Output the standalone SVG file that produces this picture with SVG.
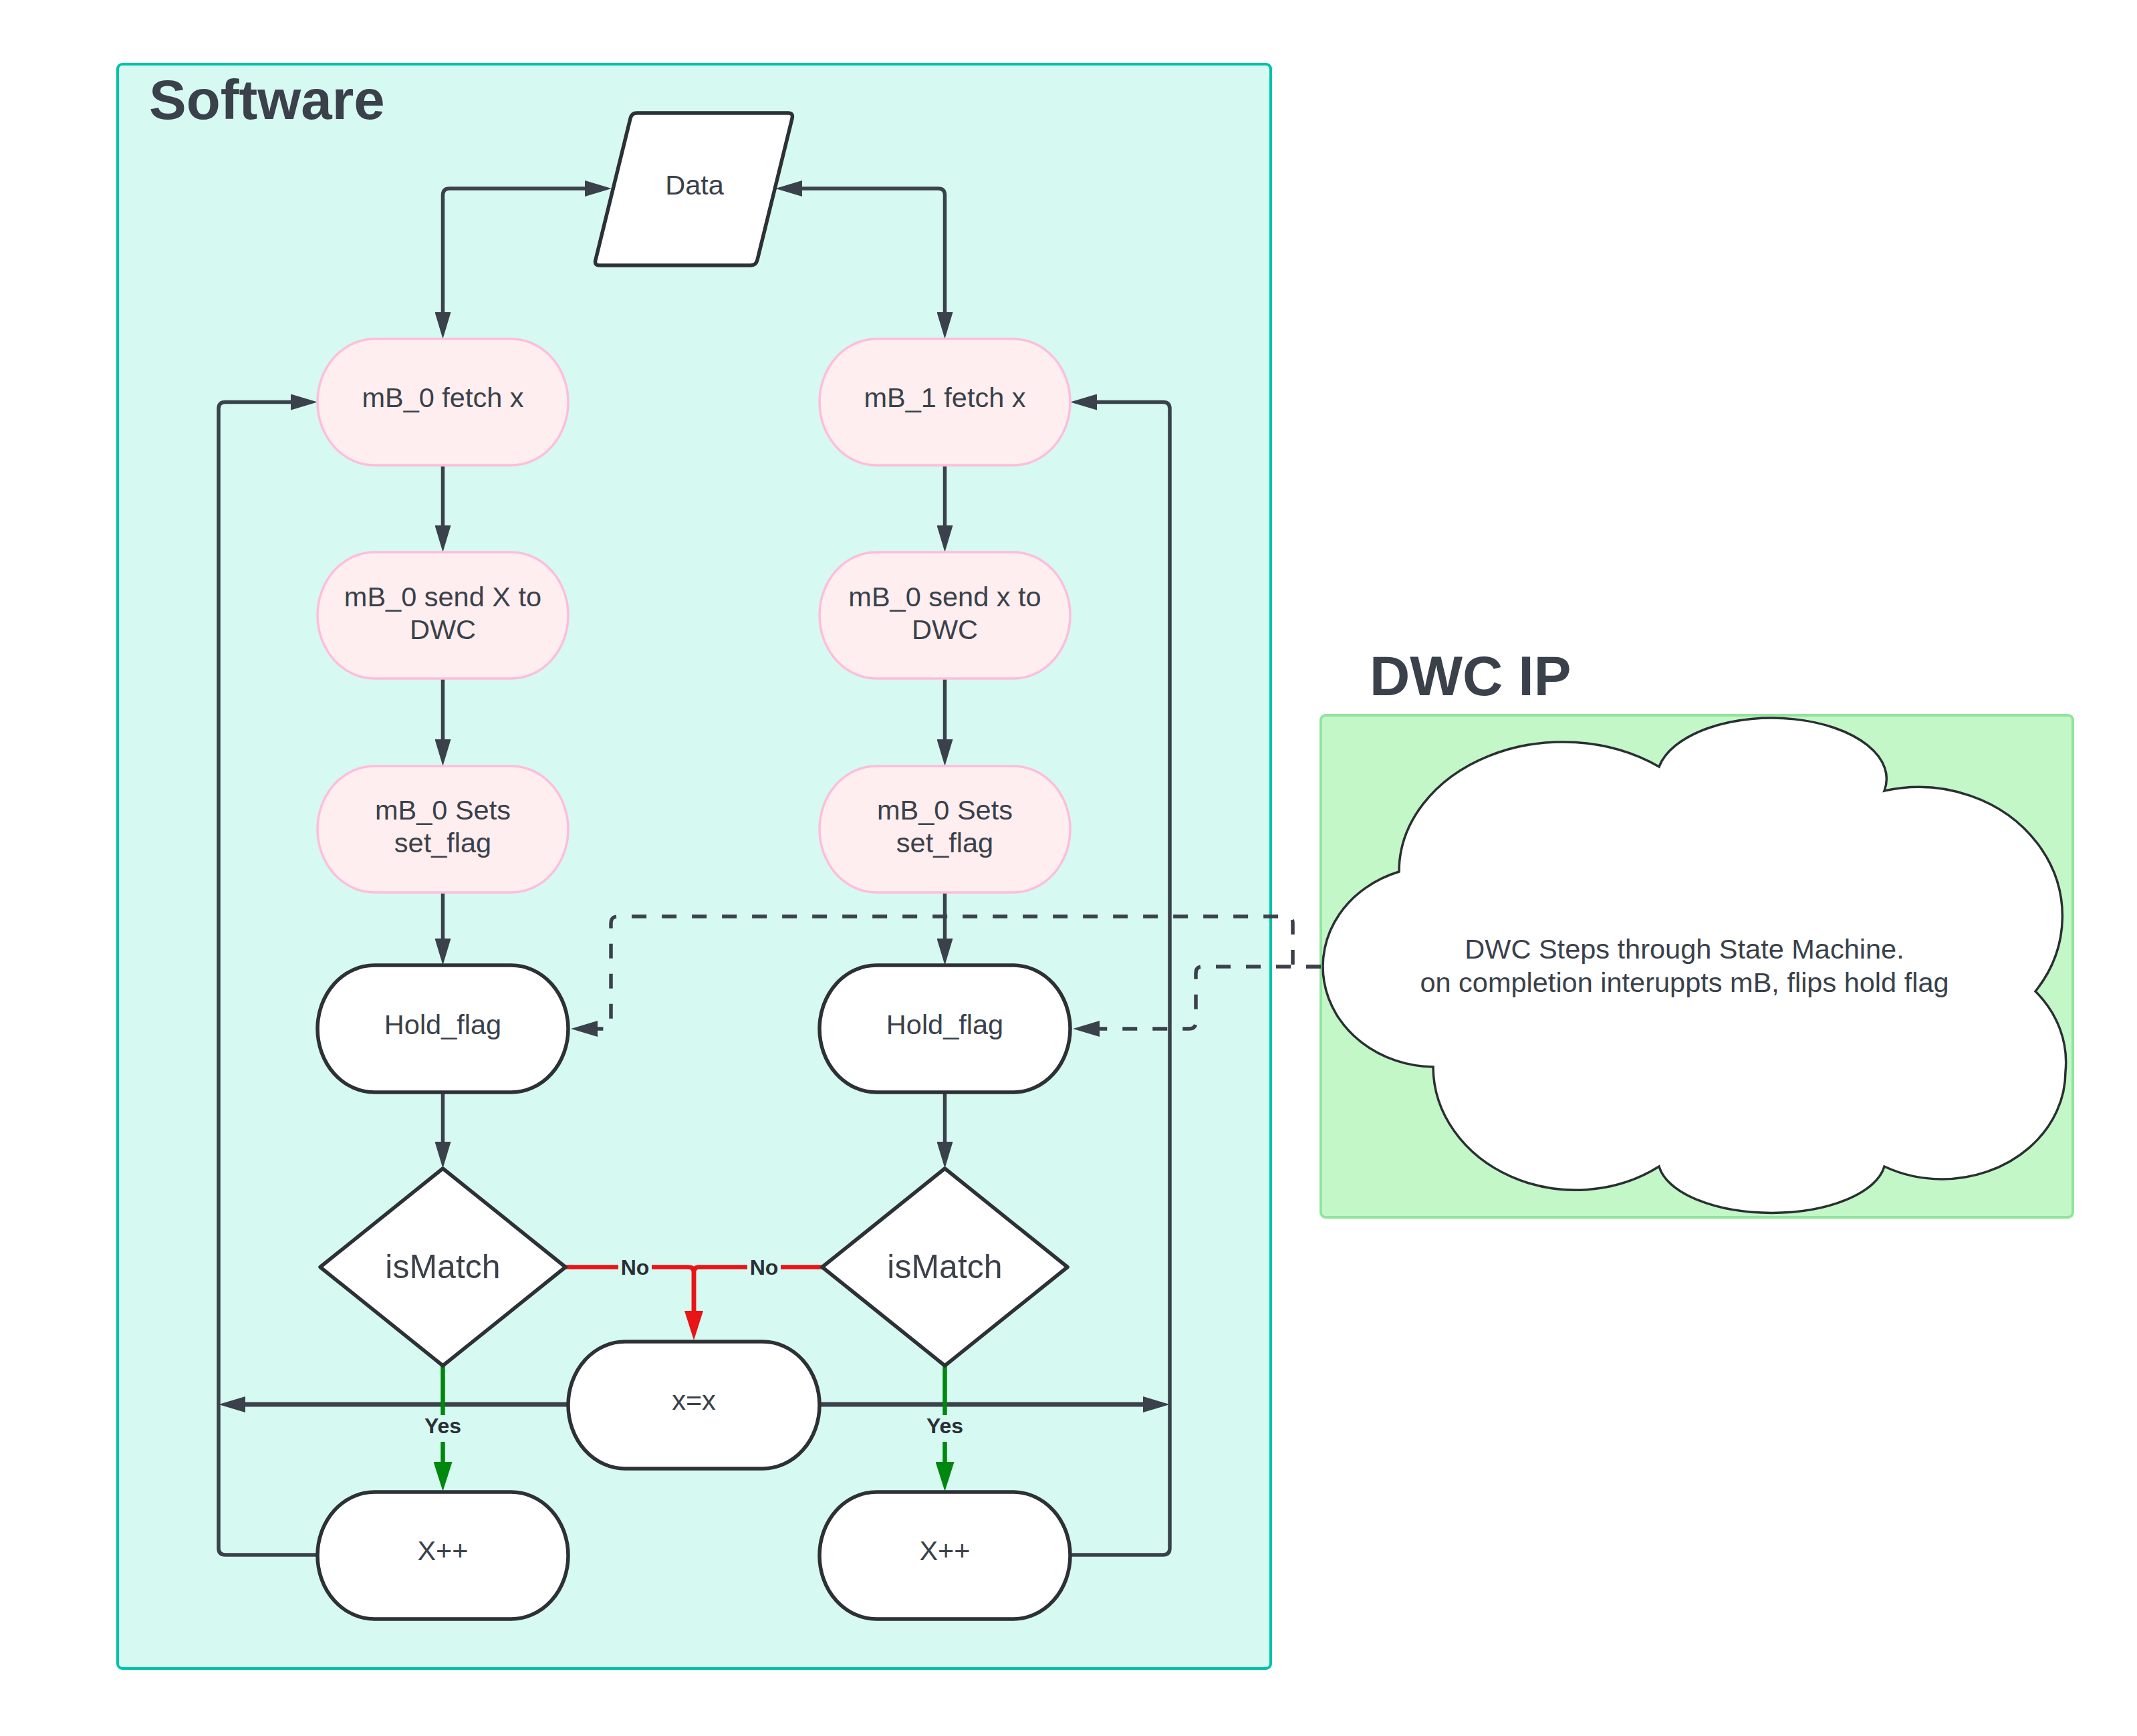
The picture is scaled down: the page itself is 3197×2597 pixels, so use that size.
<svg xmlns="http://www.w3.org/2000/svg" width="3197" height="2597" viewBox="0 0 3197 2597">
<defs>
<style>
text{font-family:"Liberation Sans",Arial,sans-serif;fill:#3a414a}
.t{font-size:41.5px;text-anchor:middle}
.title{font-size:83.5px;font-weight:bold}
.lbl{font-size:32px;font-weight:bold;text-anchor:middle;fill:#2b2f33}
.pink{fill:#ffeeef;stroke:#ffbddb;stroke-width:3.5}
.wht{fill:#ffffff;stroke:#2d3136;stroke-width:5.5;stroke-linejoin:round}
.c{fill:none;stroke:#3a414a;stroke-width:5.5}
.d{fill:none;stroke:#3a414a;stroke-width:5.5;stroke-dasharray:22 23}
.r{fill:none;stroke:#e81416;stroke-width:6.5}
.g{fill:none;stroke:#00880e;stroke-width:6.5}
.mask{fill:#d6f9f2}
</style>
<marker id="arr" markerUnits="userSpaceOnUse" markerWidth="40" markerHeight="24" refX="28" refY="12" orient="auto-start-reverse" viewBox="0 0 40 24"><path d="M0,0 L40,12 L0,24 z" fill="#3a414a"/></marker>
<marker id="arrR" markerUnits="userSpaceOnUse" markerWidth="44" markerHeight="28" refX="32" refY="14" orient="auto" viewBox="0 0 44 28"><path d="M0,0 L44,14 L0,28 z" fill="#e81416"/></marker>
<marker id="arrG" markerUnits="userSpaceOnUse" markerWidth="44" markerHeight="28" refX="32" refY="14" orient="auto" viewBox="0 0 44 28"><path d="M0,0 L44,14 L0,28 z" fill="#00880e"/></marker>
</defs>
<rect width="3197" height="2597" fill="#ffffff"/>

<g id="software-container">
<rect x="176" y="96" width="1725" height="2400" rx="7" fill="#d6f9f2" stroke="#00c2a8" stroke-width="4"/>
<text class="title" x="223" y="178">Software</text>
</g>

<g id="dwc-container">
<rect x="1976" y="1070" width="1125" height="751" rx="7" fill="#c3f7c8" stroke="#8fe59c" stroke-width="4"/>
<text class="title" x="2049" y="1040">DWC IP</text>
</g>

<g id="connectors">
<path class="c" d="M662.5,495 V292 Q662.5,282 672.5,282 H903" marker-start="url(#arr)" marker-end="url(#arr)"/>
<path class="c" d="M1413.5,495 V292 Q1413.5,282 1403.5,282 H1172" marker-start="url(#arr)" marker-end="url(#arr)"/>
<path class="c" d="M662.5,696 V814" marker-end="url(#arr)"/>
<path class="c" d="M662.5,1015 V1134" marker-end="url(#arr)"/>
<path class="c" d="M662.5,1335 V1432" marker-end="url(#arr)"/>
<path class="c" d="M662.5,1634 V1736" marker-end="url(#arr)"/>
<path class="c" d="M1413.5,696 V814" marker-end="url(#arr)"/>
<path class="c" d="M1413.5,1015 V1134" marker-end="url(#arr)"/>
<path class="c" d="M1413.5,1335 V1432" marker-end="url(#arr)"/>
<path class="c" d="M1413.5,1634 V1736" marker-end="url(#arr)"/>
<path class="c" d="M475,2326 H337 Q327,2326 327,2316 V611.5 Q327,601.5 337,601.5 H463" marker-end="url(#arr)"/>
<path class="c" d="M1601,2326 H1740 Q1750,2326 1750,2316 V611.5 Q1750,601.5 1740,601.5 H1613" marker-end="url(#arr)"/>
<path class="c" style="stroke-width:7" d="M850,2101 H339" marker-end="url(#arr)"/>
<path class="c" style="stroke-width:7" d="M1226,2101 H1738" marker-end="url(#arr)"/>
<path class="d" d="M1976,1446 H1934 V1381 Q1934,1371 1924,1371 H924 Q914,1371 914,1381 V1529 Q914,1539 904,1539 H866" marker-end="url(#arr)"/>
<path class="d" d="M1976,1446 H1799 Q1789,1446 1789,1456 V1529 Q1789,1539 1779,1539 H1617" marker-end="url(#arr)"/>
<path class="r" d="M846,1895.5 H1030 Q1038,1895.5 1038,1903.5 V1993" marker-end="url(#arrR)"/>
<path class="r" d="M1231,1895.5 H1046 Q1038,1895.5 1038,1903.5 V1993"/>
<path class="g" d="M662.5,2043 V2219" marker-end="url(#arrG)"/>
<path class="g" d="M1413.5,2043 V2219" marker-end="url(#arrG)"/>
<rect class="mask" x="925" y="1880" width="50" height="32"/>
<text class="lbl" x="950" y="1907">No</text>
<rect class="mask" x="1118" y="1880" width="50" height="32"/>
<text class="lbl" x="1143" y="1907">No</text>
<rect class="mask" x="630" y="2117" width="66" height="40"/>
<text class="lbl" x="662.5" y="2144">Yes</text>
<rect class="mask" x="1381" y="2117" width="66" height="40"/>
<text class="lbl" x="1413.5" y="2144">Yes</text>
</g>

<g id="data">
<path class="wht" d="M953,169 H1179 Q1187,169 1185.1,176.8 L1132.9,389.2 Q1131,397 1123,397 H897 Q889,397 890.9,389.2 L943.1,176.8 Q945,169 953,169 Z"/>
<text class="t" x="1039" y="291">Data</text>
</g>

<g id="mb0-fetch">
<rect class="pink" x="475" y="507" width="375" height="189" rx="85" ry="94.5"/>
<text class="t" x="662.5" y="609">mB_0 fetch x</text>
</g>
<g id="mb1-fetch">
<rect class="pink" x="1226" y="507" width="375" height="189" rx="85" ry="94.5"/>
<text class="t" x="1413.5" y="609">mB_1 fetch x</text>
</g>
<g id="mb0-send">
<rect class="pink" x="475" y="826" width="375" height="189" rx="85" ry="94.5"/>
<text class="t" x="662.5" y="907">mB_0 send X to</text>
<text class="t" x="662.5" y="956">DWC</text>
</g>
<g id="mb1-send">
<rect class="pink" x="1226" y="826" width="375" height="189" rx="85" ry="94.5"/>
<text class="t" x="1413.5" y="907">mB_0 send x to</text>
<text class="t" x="1413.5" y="956">DWC</text>
</g>
<g id="mb0-sets">
<rect class="pink" x="475" y="1146" width="375" height="189" rx="85" ry="94.5"/>
<text class="t" x="662.5" y="1226">mB_0 Sets</text>
<text class="t" x="662.5" y="1275">set_flag</text>
</g>
<g id="mb1-sets">
<rect class="pink" x="1226" y="1146" width="375" height="189" rx="85" ry="94.5"/>
<text class="t" x="1413.5" y="1226">mB_0 Sets</text>
<text class="t" x="1413.5" y="1275">set_flag</text>
</g>
<g id="hold0">
<rect class="wht" x="475" y="1444" width="375" height="190" rx="85" ry="95"/>
<text class="t" x="662.5" y="1547">Hold_flag</text>
</g>
<g id="hold1">
<rect class="wht" x="1226" y="1444" width="375" height="190" rx="85" ry="95"/>
<text class="t" x="1413.5" y="1547">Hold_flag</text>
</g>
<g id="ismatch0">
<path class="wht" d="M662.5,1748 L846,1895.5 L662.5,2043 L479,1895.5 Z"/>
<text class="t" style="font-size:50px" x="662.5" y="1912">isMatch</text>
</g>
<g id="ismatch1">
<path class="wht" d="M1413.5,1748 L1597,1895.5 L1413.5,2043 L1230,1895.5 Z"/>
<text class="t" style="font-size:50px" x="1413.5" y="1912">isMatch</text>
</g>
<g id="xeqx">
<rect class="wht" x="850" y="2007" width="376" height="190" rx="85" ry="95"/>
<text class="t" x="1038" y="2109">x=x</text>
</g>
<g id="xpp0">
<rect class="wht" x="475" y="2232" width="375" height="190" rx="85" ry="95"/>
<text class="t" x="662.5" y="2334">X++</text>
</g>
<g id="xpp1">
<rect class="wht" x="1226" y="2232" width="375" height="190" rx="85" ry="95"/>
<text class="t" x="1413.5" y="2334">X++</text>
</g>

<g id="dwc-cloud">
<path d="M2093,1304 A245,194 0 0 1 2482,1147 A170,90 0 0 1 2819,1183 A215,193 0 0 1 3045,1483 A185,161 0 0 1 3090,1603 A185,161 0 0 1 2905,1764 A185,161 0 0 1 2819,1745 A170,80 0 0 1 2482,1745 A213,185 0 0 1 2144,1596 A168,150 0 0 1 2093,1304 Z" fill="#ffffff" stroke="#2b2f33" stroke-width="3.5"/>
<text class="t" x="2520" y="1434">DWC Steps through State Machine.</text>
<text class="t" x="2520" y="1484">on completion interuppts mB, flips hold flag</text>
</g>
</svg>
